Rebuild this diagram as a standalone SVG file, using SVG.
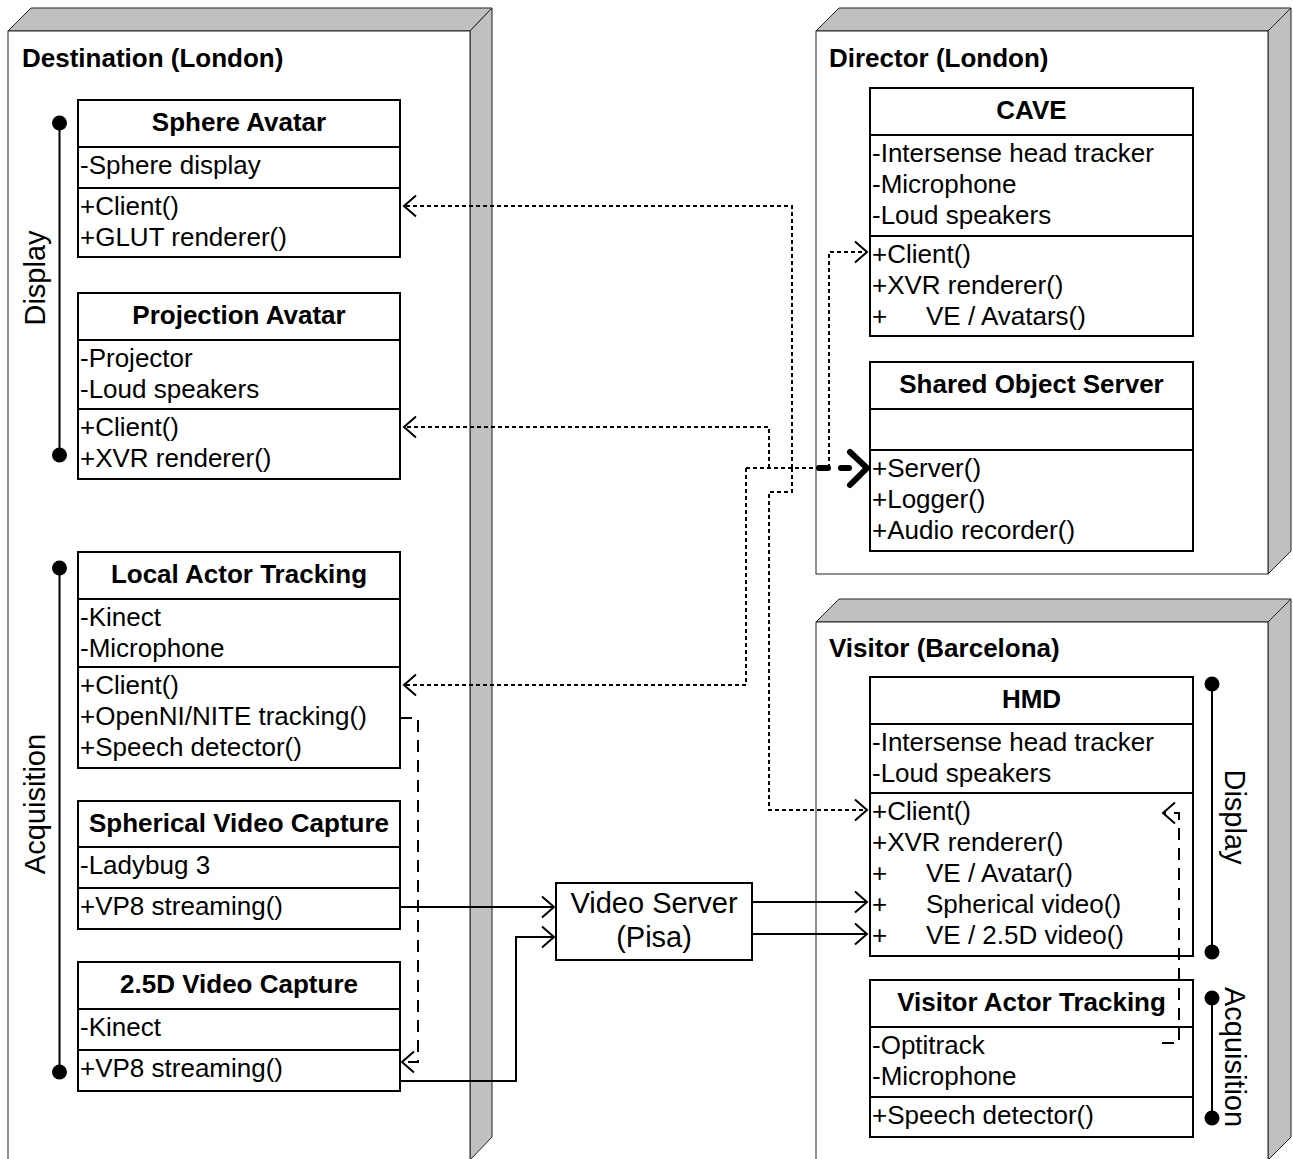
<svg xmlns="http://www.w3.org/2000/svg" width="1293" height="1159" viewBox="0 0 1293 1159">
<style>
.t{font-family:"Liberation Sans",Arial,sans-serif;font-size:26px;fill:#000}
.b{font-weight:bold}
.m{text-anchor:middle}
.lbl{font-family:"Liberation Sans",Arial,sans-serif;font-size:29px;fill:#000;text-anchor:middle}
.face{fill:#fff;stroke:#222;stroke-width:1}
.side{fill:#c0c0c0;stroke:#222;stroke-width:1;stroke-linejoin:miter}
.box{fill:#fff;stroke:#000;stroke-width:2}
.div{stroke:#000;stroke-width:2}
.brk{stroke:#000;stroke-width:2}
.dot{fill:#000}
.dotted{fill:none;stroke:#000;stroke-width:2;stroke-dasharray:4,3}
.dashed{fill:none;stroke:#000;stroke-width:2;stroke-dasharray:12,8}
.solid{fill:none;stroke:#000;stroke-width:2}
</style>
<defs>
<marker id="open" markerUnits="userSpaceOnUse" markerWidth="30" markerHeight="30" viewBox="-15 -15 30 30" refX="0" refY="0" orient="auto" overflow="visible">
<path d="M-12,-10.5 L0,0 L-12,10.5" fill="none" stroke="#000" stroke-width="2" stroke-dasharray="none"/>
</marker>
</defs>

<!-- Destination node -->
<g id="destination">
<polygon class="side" points="8,31 31,8 492,8 470,31"/>
<polygon class="side" points="470,31 492,8 492,1137 470,1160"/>
<rect class="face" x="8" y="31" width="462" height="1129"/>
<text class="t b" x="22" y="67">Destination (London)</text>
<line class="brk" x1="59.5" y1="123" x2="59.5" y2="455"/>
<circle class="dot" cx="59.5" cy="123" r="7.5"/>
<circle class="dot" cx="59.5" cy="455" r="7.5"/>
<text class="lbl" transform="translate(45,278) rotate(-90)">Display</text>
<line class="brk" x1="59.5" y1="568" x2="59.5" y2="1072"/>
<circle class="dot" cx="59.5" cy="568" r="7.5"/>
<circle class="dot" cx="59.5" cy="1072" r="7.5"/>
<text class="lbl" transform="translate(45,804) rotate(-90)">Acquisition</text>
</g>

<g id="sphere-avatar">
<rect class="box" x="78" y="100" width="322" height="157"/>
<line class="div" x1="78" y1="147" x2="400" y2="147"/>
<line class="div" x1="78" y1="188" x2="400" y2="188"/>
<text class="t b m" x="239" y="131">Sphere Avatar</text>
<text class="t" x="80" y="174">-Sphere display</text>
<text class="t" x="80" y="215">+Client()</text>
<text class="t" x="80" y="246">+GLUT renderer()</text>
</g>

<g id="projection-avatar">
<rect class="box" x="78" y="293" width="322" height="186"/>
<line class="div" x1="78" y1="340" x2="400" y2="340"/>
<line class="div" x1="78" y1="409" x2="400" y2="409"/>
<text class="t b m" x="239" y="324">Projection Avatar</text>
<text class="t" x="80" y="367">-Projector</text>
<text class="t" x="80" y="398">-Loud speakers</text>
<text class="t" x="80" y="436">+Client()</text>
<text class="t" x="80" y="467">+XVR renderer()</text>
</g>

<g id="local-actor-tracking">
<rect class="box" x="78" y="552" width="322" height="216"/>
<line class="div" x1="78" y1="599" x2="400" y2="599"/>
<line class="div" x1="78" y1="667" x2="400" y2="667"/>
<text class="t b m" x="239" y="583">Local Actor Tracking</text>
<text class="t" x="80" y="626">-Kinect</text>
<text class="t" x="80" y="657">-Microphone</text>
<text class="t" x="80" y="694">+Client()</text>
<text class="t" x="80" y="725">+OpenNI/NITE tracking()</text>
<text class="t" x="80" y="756">+Speech detector()</text>
</g>

<g id="spherical-video-capture">
<rect class="box" x="78" y="801" width="322" height="128"/>
<line class="div" x1="78" y1="847" x2="400" y2="847"/>
<line class="div" x1="78" y1="888" x2="400" y2="888"/>
<text class="t b m" x="239" y="832">Spherical Video Capture</text>
<text class="t" x="80" y="874">-Ladybug 3</text>
<text class="t" x="80" y="915">+VP8 streaming()</text>
</g>

<g id="video-capture-25d">
<rect class="box" x="78" y="962" width="322" height="129"/>
<line class="div" x1="78" y1="1009" x2="400" y2="1009"/>
<line class="div" x1="78" y1="1050" x2="400" y2="1050"/>
<text class="t b m" x="239" y="993">2.5D Video Capture</text>
<text class="t" x="80" y="1036">-Kinect</text>
<text class="t" x="80" y="1077">+VP8 streaming()</text>
</g>

<!-- Director node -->
<g id="director">
<polygon class="side" points="816,31 839,8 1291,8 1268,31"/>
<polygon class="side" points="1268,31 1291,8 1291,551 1268,574"/>
<rect class="face" x="816" y="31" width="452" height="543"/>
<text class="t b" x="829" y="67">Director (London)</text>
</g>

<g id="cave">
<rect class="box" x="870" y="88" width="323" height="248"/>
<line class="div" x1="870" y1="135" x2="1193" y2="135"/>
<line class="div" x1="870" y1="236" x2="1193" y2="236"/>
<text class="t b m" x="1031.5" y="119">CAVE</text>
<text class="t" x="872" y="162">-Intersense head tracker</text>
<text class="t" x="872" y="193">-Microphone</text>
<text class="t" x="872" y="224">-Loud speakers</text>
<text class="t" x="872" y="263">+Client()</text>
<text class="t" x="872" y="294">+XVR renderer()</text>
<text class="t" x="872" y="325"><tspan>+</tspan><tspan x="926">VE / Avatars()</tspan></text>
</g>

<g id="shared-object-server">
<rect class="box" x="870" y="362" width="323" height="189"/>
<line class="div" x1="870" y1="409" x2="1193" y2="409"/>
<line class="div" x1="870" y1="450" x2="1193" y2="450"/>
<text class="t b m" x="1031.5" y="393">Shared Object Server</text>
<text class="t" x="872" y="477">+Server()</text>
<text class="t" x="872" y="508">+Logger()</text>
<text class="t" x="872" y="539">+Audio recorder()</text>
</g>

<!-- Visitor node -->
<g id="visitor">
<polygon class="side" points="816,622 839,599 1291,599 1268,622"/>
<polygon class="side" points="1268,622 1291,599 1291,1137 1268,1160"/>
<rect class="face" x="816" y="622" width="452" height="538"/>
<text class="t b" x="829" y="657">Visitor (Barcelona)</text>
<line class="brk" x1="1212" y1="684" x2="1212" y2="952"/>
<circle class="dot" cx="1212" cy="684" r="7.5"/>
<circle class="dot" cx="1212" cy="952" r="7.5"/>
<text class="lbl" transform="translate(1225,817) rotate(90)">Display</text>
<line class="brk" x1="1212" y1="998" x2="1212" y2="1118"/>
<circle class="dot" cx="1212" cy="998" r="7.5"/>
<circle class="dot" cx="1212" cy="1118" r="7.5"/>
<text class="lbl" transform="translate(1225,1057) rotate(90)">Acquisition</text>
</g>

<g id="hmd">
<rect class="box" x="870" y="677" width="323" height="279"/>
<line class="div" x1="870" y1="724" x2="1193" y2="724"/>
<line class="div" x1="870" y1="793" x2="1193" y2="793"/>
<text class="t b m" x="1031.5" y="708">HMD</text>
<text class="t" x="872" y="751">-Intersense head tracker</text>
<text class="t" x="872" y="782">-Loud speakers</text>
<text class="t" x="872" y="820">+Client()</text>
<text class="t" x="872" y="851">+XVR renderer()</text>
<text class="t" x="872" y="882"><tspan>+</tspan><tspan x="926">VE / Avatar()</tspan></text>
<text class="t" x="872" y="913"><tspan>+</tspan><tspan x="926">Spherical video()</tspan></text>
<text class="t" x="872" y="944"><tspan>+</tspan><tspan x="926">VE / 2.5D video()</tspan></text>
</g>

<g id="visitor-actor-tracking">
<rect class="box" x="870" y="980" width="323" height="157"/>
<line class="div" x1="870" y1="1027" x2="1193" y2="1027"/>
<line class="div" x1="870" y1="1097" x2="1193" y2="1097"/>
<text class="t b m" x="1031.5" y="1011">Visitor Actor Tracking</text>
<text class="t" x="872" y="1054">-Optitrack</text>
<text class="t" x="872" y="1085">-Microphone</text>
<text class="t" x="872" y="1124">+Speech detector()</text>
</g>

<g id="video-server">
<rect class="box" x="556" y="883" width="196" height="77"/>
<text class="lbl" x="654" y="913">Video Server</text>
<text class="lbl" x="654" y="947">(Pisa)</text>
</g>

<!-- Connectors -->
<g id="connectors">
<path class="dotted" d="M792,468 V206 H404" marker-end="url(#open)"/>
<path class="dotted" d="M769,468 V427 H404" marker-end="url(#open)"/>
<path class="dotted" d="M746,468 V685 H404" marker-end="url(#open)"/>
<path class="dotted" d="M829,468 V252 H867" marker-end="url(#open)"/>
<path class="dotted" d="M792,468 V492 H769 V810 H867" marker-end="url(#open)"/>
<path class="dotted" d="M746,468 H818"/>
<path d="M819,468 H828 M841,468 H849" fill="none" stroke="#000" stroke-width="6" stroke-linecap="round"/>
<path d="M850,452 L867,468 L850,485" fill="none" stroke="#000" stroke-width="6" stroke-linecap="round" stroke-linejoin="miter"/>
<path class="dashed" d="M400,718 H418 V1062 H402" marker-end="url(#open)"/>
<path class="dashed" d="M1162,1043 H1179 V813 H1163" marker-end="url(#open)"/>
<path class="solid" d="M400,907 H554" marker-end="url(#open)"/>
<path class="solid" d="M400,1081 H516 V937 H554" marker-end="url(#open)"/>
<path class="solid" d="M752,902 H867" marker-end="url(#open)"/>
<path class="solid" d="M752,934 H867" marker-end="url(#open)"/>
</g>
</svg>
